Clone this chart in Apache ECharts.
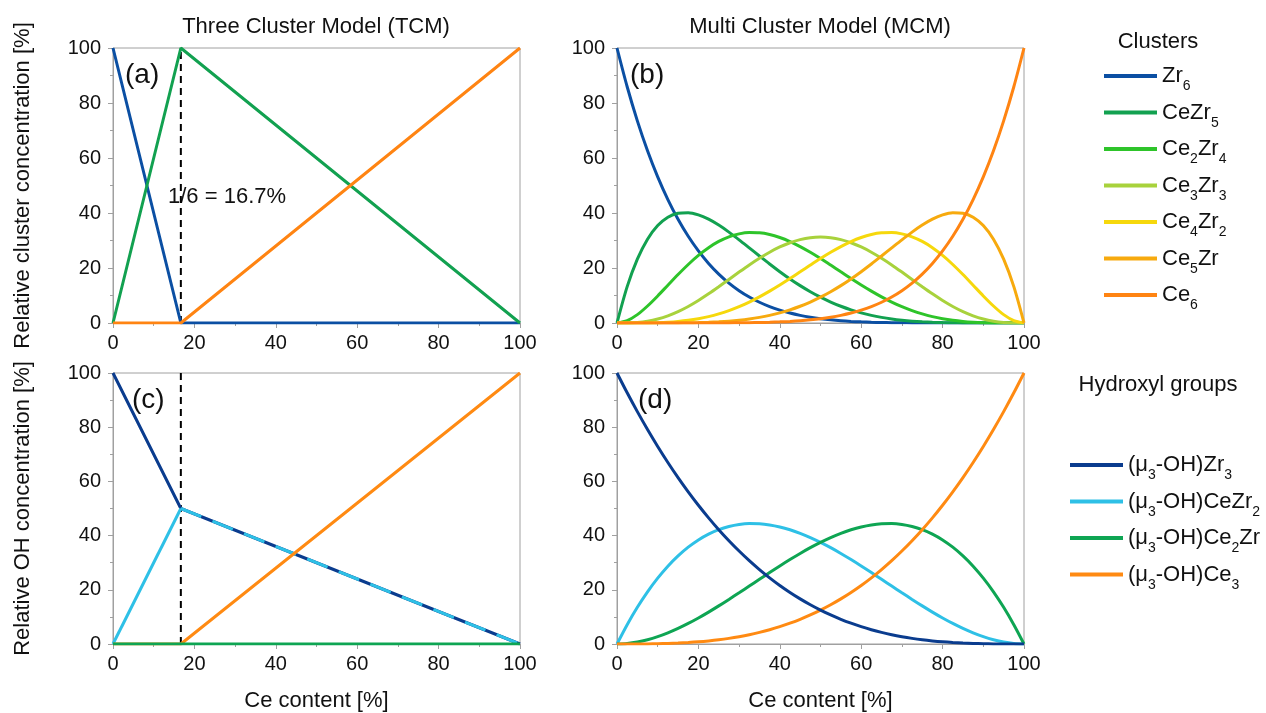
<!DOCTYPE html>
<html><head><meta charset="utf-8">
<script src="https://cdn.jsdelivr.net/npm/echarts@6/dist/echarts.min.js"></script>
<style>html,body{margin:0;padding:0;background:#fff}#c{width:1266px;height:713px}</style>
</head><body><div id="c"></div><script>
// ---------- DATA ----------
const CLUSTER_NAMES = ['Zr6','CeZr5','Ce2Zr4','Ce3Zr3','Ce4Zr2','Ce5Zr','Ce6'];
const OH_NAMES = ['(μ3-OH)Zr3','(μ3-OH)CeZr2','(μ3-OH)Ce2Zr','(μ3-OH)Ce3'];

// Three Cluster Model (panel a, c)
const TCM_X = [0, 16.67, 100];
const TCM_ZR6 = [100, 0, 0];
const TCM_CEZR5 = [0, 100, 0];
const TCM_CE6 = [0, 0, 100];
const TCM_OH_ZR3 = [100, 50, 0];
const TCM_OH_CEZR2 = [0, 50, 0];
const TCM_OH_CE2ZR = [0, 0, 0];
const TCM_OH_CE3 = [0, 0, 100];
const TCM_SPLIT = 16.67;

// Multi Cluster Model (panel b, d)
const XS = [0,2.5,5,7.5,10,12.5,15,17.5,20,22.5,25,27.5,30,32.5,35,37.5,40,42.5,45,47.5,50,
            52.5,55,57.5,60,62.5,65,67.5,70,72.5,75,77.5,80,82.5,85,87.5,90,92.5,95,97.5,100];
const MCM_ZR6 = [100,85.91,73.51,62.64,53.14,44.88,37.71,31.53,26.21,21.67,17.80,14.52,11.76,9.46,7.54,5.96,4.67,3.61,2.77,2.09,1.56,
                 1.15,0.83,0.59,0.41,0.28,0.18,0.12,0.07,0.04,0.02,0.01,0.01,0,0,0,0,0,0,0,0];
const MCM_CEZR5 = [0,13.22,23.21,30.47,35.43,38.47,39.93,40.13,39.32,37.74,35.60,33.05,30.25,27.32,24.37,21.46,18.66,16.03,13.59,11.37,9.38,
                   7.62,6.09,4.78,3.69,2.78,2.05,1.47,1.02,0.68,0.44,0.27,0.15,0.08,0.04,0.02,0.01,0,0,0,0];
const MCM_CE2ZR4 = [0,0.85,3.05,6.18,9.84,13.74,17.62,21.28,24.58,27.39,29.66,31.34,32.41,32.89,32.80,32.19,31.10,29.62,27.80,25.71,23.44,
                    21.05,18.61,16.18,13.82,11.59,9.51,7.62,5.95,4.51,3.30,2.31,1.54,0.96,0.55,0.28,0.12,0.04,0.01,0,0];
const MCM_CE3ZR3 = [0,0.03,0.21,0.67,1.46,2.62,4.15,6.02,8.19,10.60,13.18,15.85,18.52,21.12,23.55,25.75,27.65,29.19,30.32,31.02,31.25,
                    31.02,30.32,29.19,27.65,25.75,23.55,21.12,18.52,15.85,13.18,10.60,8.19,6.02,4.15,2.62,1.46,0.67,0.21,0.03,0];
const MCM_CE4ZR2 = [0,0,0.01,0.04,0.12,0.28,0.55,0.96,1.54,2.31,3.30,4.51,5.95,7.62,9.51,11.59,13.82,16.18,18.61,21.05,23.44,
                    25.71,27.80,29.62,31.10,32.19,32.80,32.89,32.41,31.34,29.66,27.39,24.58,21.28,17.62,13.74,9.84,6.18,3.05,0.85,0];
const MCM_CE5ZR = [0,0,0,0,0.01,0.02,0.04,0.08,0.15,0.27,0.44,0.68,1.02,1.47,2.05,2.78,3.69,4.78,6.09,7.62,9.38,
                   11.37,13.59,16.03,18.66,21.46,24.37,27.32,30.25,33.05,35.60,37.74,39.32,40.13,39.93,38.47,35.43,30.47,23.21,13.22,0];
const MCM_CE6 = [0,0,0,0,0,0,0,0,0.01,0.01,0.02,0.04,0.07,0.12,0.18,0.28,0.41,0.59,0.83,1.15,1.56,
                 2.09,2.77,3.61,4.67,5.96,7.54,9.46,11.76,14.52,17.80,21.67,26.21,31.53,37.71,44.88,53.14,62.64,73.51,85.91,100];
const MCM_OH_ZR3 = [100,92.69,85.74,79.15,72.90,66.99,61.41,56.15,51.20,46.55,42.19,38.11,34.30,30.75,27.46,24.41,21.60,19.01,16.64,14.47,12.50,
                    10.72,9.11,7.68,6.40,5.27,4.29,3.43,2.70,2.08,1.56,1.14,0.80,0.54,0.34,0.20,0.10,0.04,0.01,0,0];
const MCM_OH_CEZR2 = [0,7.13,13.54,19.25,24.30,28.71,32.51,35.73,38.40,40.54,42.19,43.36,44.10,44.42,44.36,43.95,43.20,42.15,40.84,39.28,37.50,
                      35.54,33.41,31.16,28.80,26.37,23.89,21.39,18.90,16.45,14.06,11.77,9.60,7.58,5.74,4.10,2.70,1.56,0.71,0.18,0];
const MCM_OH_CE2ZR = [0,0.18,0.71,1.56,2.70,4.10,5.74,7.58,9.60,11.77,14.06,16.45,18.90,21.39,23.89,26.37,28.80,31.16,33.41,35.54,37.50,
                      39.28,40.84,42.15,43.20,43.95,44.36,44.42,44.10,43.36,42.19,40.54,38.40,35.73,32.51,28.71,24.30,19.25,13.54,7.13,0];
const MCM_OH_CE3 = [0,0,0.01,0.04,0.10,0.20,0.34,0.54,0.80,1.14,1.56,2.08,2.70,3.43,4.29,5.27,6.40,7.68,9.11,10.72,12.50,
                    14.47,16.64,19.01,21.60,24.41,27.46,30.75,34.30,38.11,42.19,46.55,51.20,56.15,61.41,66.99,72.90,79.15,85.74,92.69,100];

// ---------- STYLE ----------
const FONT = 'Liberation Sans, Arial, sans-serif';
const AX = '#a0a0a0';
const TXT = '#111';
const COL = {
  'Zr6':'#0b4fa3','CeZr5':'#12a150','Ce2Zr4':'#2ec42a','Ce3Zr3':'#a8d23c',
  'Ce4Zr2':'#f6d80c','Ce5Zr':'#f7aa0e','Ce6':'#ff8412',
  '(μ3-OH)Zr3':'#0a3c8e','(μ3-OH)CeZr2':'#2ec0e6','(μ3-OH)Ce2Zr':'#0ea553','(μ3-OH)Ce3':'#ff8a12'
};

const chart = echarts.init(document.getElementById('c'), null, {renderer:'canvas'});

const grids = [
  {left:113, top:48, width:407, height:275},
  {left:617, top:48, width:407, height:275},
  {left:113, top:373, width:407, height:273},
  {left:617, top:373, width:407, height:273}
].map(g => Object.assign({show:true, borderColor:AX, borderWidth:1, backgroundColor:'transparent'}, g));

function axis(gi, isX, name) {
  const a = {
    type:'value', gridIndex:gi, min:0, max:100, interval:20,
    axisLine:{show:true, onZero:false, lineStyle:{color:AX, width:1}},
    axisTick:{show:true, inside:false, length:5, lineStyle:{color:AX}},
    minorTick:{show:true, splitNumber:2, length:3, lineStyle:{color:AX}},
    splitLine:{show:false},
    axisLabel:{fontSize:20, color:TXT, fontFamily:FONT, margin:isX?10:12},
  };
  if (name) {
    a.name = name; a.nameLocation = 'middle';
    a.nameGap = isX ? 46 : 79;
    a.nameTextStyle = {fontSize:22, color:TXT, fontFamily:FONT};
  }
  return a;
}

const xAxes = [axis(0,true), axis(1,true), axis(2,true,'Ce content [%]'), axis(3,true,'Ce content [%]')];
const yAxes = [axis(0,false,'Relative cluster concentration [%]'), axis(1,false), axis(2,false,'Relative OH concentration [%]'), axis(3,false)];

function line(name, xs, ys, gi, extra) {
  const c = COL[name] || '#000';
  return Object.assign({
    type:'line', name:name, xAxisIndex:gi, yAxisIndex:gi,
    data: xs.map((x,i)=>[x, ys[i]]),
    symbol:'none', showSymbol:false, animation:false,
    lineStyle:{color:c, width:3}, itemStyle:{color:c},
    emphasis:{disabled:true}
  }, extra || {});
}
const SM = {smooth:0.3};
function dashV(gi) {
  return {type:'line', name:'_split'+gi, xAxisIndex:gi, yAxisIndex:gi,
    data:[[TCM_SPLIT,0],[TCM_SPLIT,100]], symbol:'none', animation:false,
    lineStyle:{color:'#000', width:2, type:[7,5]}, emphasis:{disabled:true}, z:1};
}

const series = [
  // (a)
  dashV(0),
  line('Zr6', TCM_X, TCM_ZR6, 0),
  line('CeZr5', TCM_X, TCM_CEZR5, 0),
  line('Ce6', TCM_X, TCM_CE6, 0),
  // (b)
  line('Zr6', XS, MCM_ZR6, 1, SM),
  line('CeZr5', XS, MCM_CEZR5, 1, SM),
  line('Ce2Zr4', XS, MCM_CE2ZR4, 1, SM),
  line('Ce3Zr3', XS, MCM_CE3ZR3, 1, SM),
  line('Ce4Zr2', XS, MCM_CE4ZR2, 1, SM),
  line('Ce5Zr', XS, MCM_CE5ZR, 1, SM),
  line('Ce6', XS, MCM_CE6, 1, SM),
  // (c)
  dashV(2),
  line('(μ3-OH)Zr3', TCM_X, TCM_OH_ZR3, 2),
  line('(μ3-OH)CeZr2', TCM_X.slice(0,2), TCM_OH_CEZR2.slice(0,2), 2),
  line('(μ3-OH)CeZr2', TCM_X.slice(1), TCM_OH_CEZR2.slice(1), 2, {lineStyle:{color:COL['(μ3-OH)CeZr2'], width:3, type:[22,12]}}),
  line('(μ3-OH)Ce3', TCM_X, TCM_OH_CE3, 2),
  line('(μ3-OH)Ce2Zr', TCM_X, TCM_OH_CE2ZR, 2),
  // (d)
  line('(μ3-OH)CeZr2', XS, MCM_OH_CEZR2, 3, SM),
  line('(μ3-OH)Ce2Zr', XS, MCM_OH_CE2ZR, 3, SM),
  line('(μ3-OH)Ce3', XS, MCM_OH_CE3, 3, SM),
  line('(μ3-OH)Zr3', XS, MCM_OH_ZR3, 3, SM),
];

function fmt(name) {
  return name.split(/(\d)/).filter(t => t !== '')
    .map(t => /^\d$/.test(t) ? '{s|' + t + '}' : '{n|' + t + '}').join('');
}
const legendText = {
  rich: {
    n:{fontSize:22, fontFamily:FONT, color:TXT, lineHeight:35, verticalAlign:'middle'},
    s:{fontSize:14, fontFamily:FONT, color:TXT, lineHeight:35, verticalAlign:'bottom'}
  }
};
const legends = [
  {data:CLUSTER_NAMES, orient:'vertical', left:1104, top:65, itemWidth:53, itemHeight:4, icon:'rect',
   itemGap:8, formatter:fmt, textStyle:legendText, selectedMode:false, padding:0},
  {data:OH_NAMES, orient:'vertical', left:1070, top:454, itemWidth:53, itemHeight:4, icon:'rect',
   itemGap:8, formatter:fmt, textStyle:legendText, selectedMode:false, padding:0}
];

function txt(x, y, text, size, align) {
  return {type:'text', x:x, y:y, silent:true,
    style:{text:text, fill:TXT, font:size + 'px ' + FONT, align:align || 'center', verticalAlign:'middle'}};
}
const graphic = [
  txt(316, 27, 'Three Cluster Model (TCM)', 22),
  txt(820, 27, 'Multi Cluster Model (MCM)', 22),
  txt(1158, 42, 'Clusters', 22),
  txt(1158, 385, 'Hydroxyl groups', 22),
  txt(125, 75, '(a)', 28, 'left'),
  txt(630, 75, '(b)', 28, 'left'),
  txt(132, 400, '(c)', 28, 'left'),
  txt(638, 400, '(d)', 28, 'left'),
  txt(168, 197, '1/6 = 16.7%', 22, 'left')
];

chart.setOption({
  backgroundColor:'#fff',
  animation:false,
  grid:grids, xAxis:xAxes, yAxis:yAxes,
  legend:legends, series:series, graphic:graphic
});
</script></body></html>
